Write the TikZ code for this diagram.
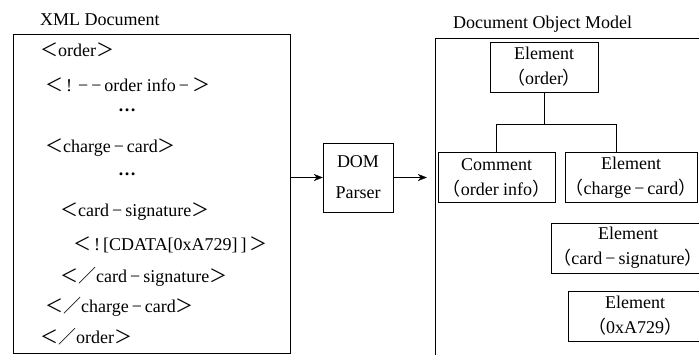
\documentclass[tikz,border=0pt]{standalone}
\usepackage{fontspec}
\setmainfont{Liberation Serif}
\newfontfamily\cjk{Noto Sans CJK SC}
\newcommand{\fw}[1]{{\cjk #1}}
\newcommand{\dsh}{\,−\,}
\usetikzlibrary{arrows.meta}

\begin{document}
\begin{tikzpicture}
    [x=1pt,y=-1pt,every node/.style={font=\fontsize{18}{25}\selectfont},
     line/.style={anchor=west,inner sep=0pt},
     box/.style={draw,minimum height=50pt,align=center,inner sep=0pt},
     arr/.style={-{Stealth[length=9pt,width=7pt]}}]
    \useasboundingbox (0,0) rectangle (699,354);
    \clip (0,0) rectangle (699,354);
    % xml side
    \node[line] (xmltitle) at (40,20) {XML Document};
    \node[draw,minimum width=277pt,minimum height=319pt] (xml) at (151.5,193.5) {};
    \node[line] (l1) at (40,50) {\fw{＜}order\fw{＞}};
    \node[line] (l2) at (45,85) {\fw{＜}\,!\,\,−\,−\,order info\,−\,\fw{＞}};
    \node[line] (l3) at (118,110) {\textbf{…}};
    \node[line] (l4) at (45,148) {\fw{＜}charge\dsh card\fw{＞}};
    \node[line] (l5) at (118,174) {\textbf{…}};
    \node[line] (l6) at (60,212) {\fw{＜}card\dsh signature\fw{＞}};
    \node[line] (l7) at (73,245) {\fw{＜}\,!\,[CDATA[0xA729]\,]\,\fw{＞}};
    \node[line] (l8) at (60,277) {\fw{＜／}card\dsh signature\fw{＞}};
    \node[line] (l9) at (45,307) {\fw{＜／}charge\dsh card\fw{＞}};
    \node[line] (l10) at (40,337) {\fw{＜／}order\fw{＞}};
    % parser
    \node[box,minimum width=70pt,minimum height=69pt,font=\fontsize{18}{31}\selectfont] (parser) at (358,177.5) {DOM\\Parser};
    % dom side
    \node[line] (domtitle) at (453,24) {Document Object Model};
    \node[draw,minimum width=285pt,minimum height=342pt] (dom) at (577.5,209) {};
    \node[box,minimum width=108pt] (root) at (544,67) {Element\\\fw{（}order\fw{）}};
    \node[box,minimum width=117pt] (comment) at (496.5,177.5) {Comment\\\fw{（}order info\fw{）}};
    \node[box,minimum width=132pt] (charge) at (631,177.5) {Element\\\fw{（}charge\dsh card\fw{）}};
    \node[box,minimum width=154pt] (sig) at (628,248) {Element\\\fw{（}card\dsh signature\fw{）}};
    \node[box,minimum width=134pt] (val) at (635,316) {Element\\\fw{（}0xA729\fw{）}};
    \coordinate (fork) at (root.south |- 0,124);
    \coordinate (jr) at (616,124);
    \draw (root.south) -- (fork);
    \draw (comment.north) |- (jr) -- (jr |- charge.north);
    % arrows
    \draw[arr] (xml.east |- parser.west) -- (parser.west);
    \draw[arr,shorten >=8pt] (parser.east) -- (parser.east -| dom.west);
\end{tikzpicture}
\end{document}
